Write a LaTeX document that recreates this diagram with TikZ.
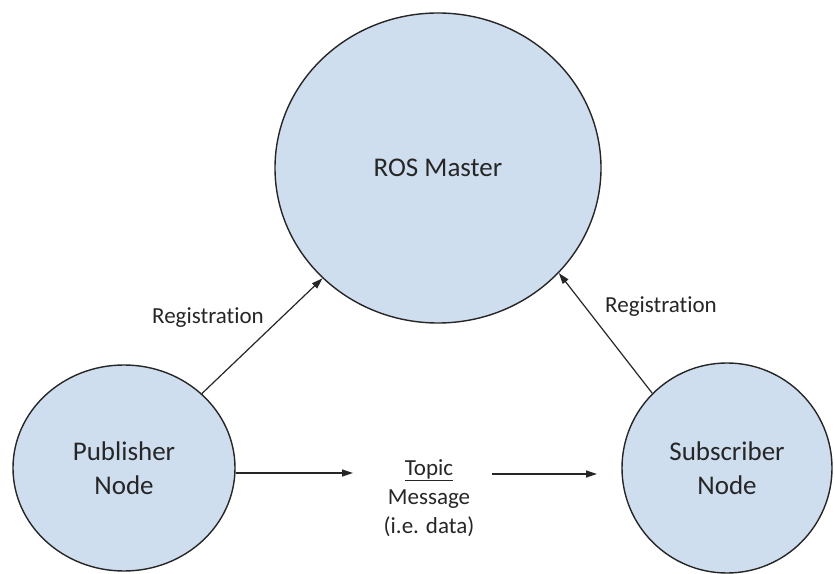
\documentclass[tikz,border=0pt]{standalone}
\usepackage{fontspec}
\setmainfont[Ligatures=NoCommon]{Carlito}
\usetikzlibrary{shapes.geometric,arrows.meta}
\definecolor{nodeblue}{RGB}{206,222,239}
\definecolor{txtgray}{RGB}{38,38,38}
\newcommand{\bigtxt}{\fontsize{27}{34}\selectfont}
\newcommand{\smalltxt}{\fontsize{23}{29}\selectfont}

\begin{document}
\begin{tikzpicture}[x=1pt,y=1pt,text=txtgray]
                        \tikzstyle{rosnode}=[ellipse,draw=black!85,line width=1.4pt,fill=nodeblue,inner sep=0pt,align=center,font=\bigtxt]
                        \tikzstyle{link}=[line width=1.2pt,draw=black!85,-{Triangle[length=11pt,width=7pt]}]
                        \useasboundingbox (0,0) rectangle (835,573);
                        \node[rosnode,minimum width=326pt,minimum height=310pt] (master) at (438,405) {ROS Master};
                        \node[rosnode,minimum width=222pt,minimum height=206pt] (pub) at (124,105) {Publisher\\Node};
                        \node[rosnode,minimum width=210pt,minimum height=210pt] (sub) at (727,105) {Subscriber\\Node};
                        \node[font=\smalltxt,align=center] (msg) at (429,75) {\underline{Topic}\\Message\\(i.e. data)};
                        \node[font=\smalltxt] (regpub) at (208,255) {Registration};
                        \node[font=\smalltxt] (regsub) at (661,266) {Registration};
                        \coordinate (topicL) at (353,100);
                        \coordinate (topicR) at (492,99);
                        \coordinate (subin) at (597,99);
                        \draw[link] (pub) -- (master);
                        \draw[link] (sub.135) -- (master.-41);
                        \draw[link] (pub.east |- topicL) -- (topicL);
                        \draw[link] (topicR) -- (subin);
                    \end{tikzpicture}
\end{document}
